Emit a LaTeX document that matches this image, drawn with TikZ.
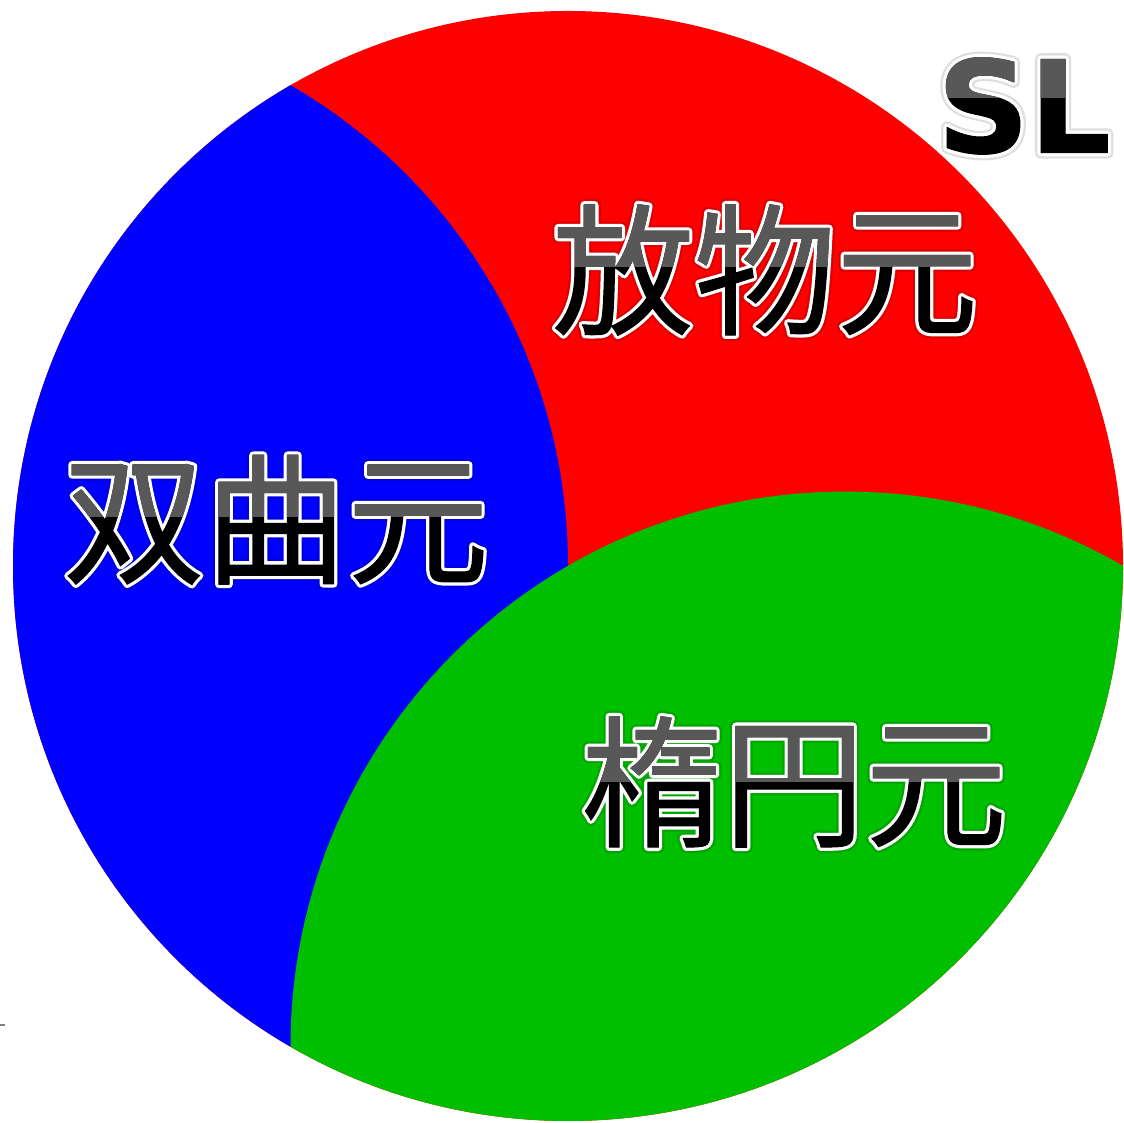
\documentclass[tikz,border=0pt]{standalone}
\usepackage{fontspec}
\newfontfamily\cjk{Noto Sans CJK JP}
\newfontfamily\slfont{DejaVu Sans}
\definecolor{cred}{RGB}{255,0,0}
\definecolor{cblue}{RGB}{0,0,255}
\definecolor{cgreen}{RGB}{0,190,0}
\tikzset{
  txt/.style={inner sep=0pt, outer sep=0pt},
  halo/.style={txt, opacity=0.13}
}
% stroked text: #1 stroke width, #2 rgb, #3 text
\newcommand\strk[3]{\special{pdf:code 1 j 1 J 2 Tr #1 w #2 RG #2 rg}#3\special{pdf:code 0 Tr 1 w}}
\newcommand\jpfont{\cjk\fontsize{142}{150}\selectfont}
\newcommand\slf{\slfont\bfseries\fontsize{128}{130}\selectfont}
\begin{document}
\begin{tikzpicture}[x=1pt,y=1pt]
\useasboundingbox (0,0) rectangle (1124,1123);
\coordinate (O) at (568,557);
\coordinate (L) at (13,557);
\coordinate (G) at (845.5,76.4);
\fill[cred] (O) circle (555pt);
\begin{scope}
  \clip (O) circle (555pt);
  \fill[cblue] (L) circle (555pt);
  \fill[cgreen] (G) circle (555pt);
\end{scope}
\draw[line width=1.5pt,gray] (0,98) -- (5,98);
% 放物元
\node[halo] at (765,853) {\jpfont\strk{12}{0 0 0}{放物元}};
\node[txt] at (765,853) {\jpfont\strk{7.5}{1 1 1}{放物元}};
\node[txt] (parab) at (765,853) {\jpfont\strk{1}{0 0 0}{放物元}};
\begin{scope}
  \clip (300,856) rectangle (1124,1000);
  \node[txt] at (765,853) {\jpfont\strk{1}{0.345 0.345 0.345}{放物元}};
\end{scope}
% 双曲元
\node[halo] at (276,603) {\jpfont\strk{12}{0 0 0}{双曲元}};
\node[txt] at (276,603) {\jpfont\strk{7.5}{1 1 1}{双曲元}};
\node[txt] (hyper) at (276,603) {\jpfont\strk{1}{0 0 0}{双曲元}};
\begin{scope}
  \clip (0,606) rectangle (600,750);
  \node[txt] at (276,603) {\jpfont\strk{1}{0.345 0.345 0.345}{双曲元}};
\end{scope}
% 楕円元
\node[halo] at (794,341) {\jpfont\strk{12}{0 0 0}{楕円元}};
\node[txt] at (794,341) {\jpfont\strk{7.5}{1 1 1}{楕円元}};
\node[txt] (ellip) at (794,341) {\jpfont\strk{1}{0 0 0}{楕円元}};
\begin{scope}
  \clip (300,341) rectangle (1124,500);
  \node[txt] at (794,341) {\jpfont\strk{1}{0.345 0.345 0.345}{楕円元}};
\end{scope}
% SL
\node[halo] at (1024,1017) {\slf\strk{12}{0 0 0}{SL}};
\node[txt] at (1024,1017) {\slf\strk{7.5}{1 1 1}{SL}};
\node[txt] (sl) at (1024,1017) {\slf\strk{1}{0 0 0}{SL}};
\begin{scope}
  \clip (850,1025) rectangle (1124,1123);
  \node[txt] at (1024,1017) {\slf\strk{1}{0.345 0.345 0.345}{SL}};
\end{scope}
\end{tikzpicture}
\end{document}
